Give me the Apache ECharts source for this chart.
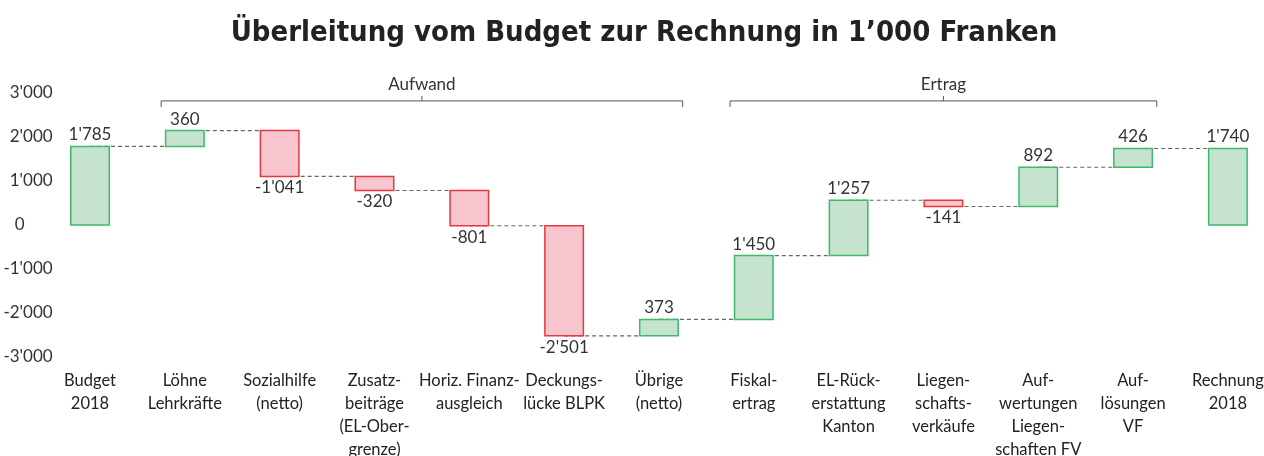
<!DOCTYPE html>
<html>
<head>
<meta charset="utf-8">
<script src="https://cdn.jsdelivr.net/npm/echarts@6/dist/echarts.min.js"></script>
<style>
  html, body { margin: 0; padding: 0; background: #fff; }
  #chart { width: 1264px; height: 456px; }
</style>
</head>
<body>
<div id="chart"></div>
<script>
// Kategorien und Werte (in 1'000 Franken)
const categories = [
  'Budget\n2018', 'Löhne\nLehrkräfte', 'Sozialhilfe\n(netto)',
  'Zusatz-\nbeiträge\n(EL-Ober-\ngrenze)', 'Horiz. Finanz-\nausgleich',
  'Deckungs-\nlücke BLPK', 'Übrige\n(netto)', 'Fiskal-\nertrag',
  'EL-Rück-\nerstattung\nKanton', 'Liegen-\nschafts-\nverkäufe',
  'Auf-\nwertungen\nLiegen-\nschaften FV', 'Auf-\nlösungen\nVF', 'Rechnung\n2018'
];
const changes = [1785, 360, -1041, -320, -801, -2501, 373, 1450, 1257, -141, 892, 426, 1740];
const isTotal = [true, false, false, false, false, false, false, false, false, false, false, false, true];
const groupNames = ['Aufwand', 'Ertrag'];
const groupFirst = [1, 7];
const groupLast = [6, 11];

const FONT = 'Lato, "DejaVu Sans Condensed", sans-serif';
const TITLE_FONT = '"DejaVu Sans Condensed", Roboto, sans-serif';
const GREEN_FILL = '#c6e3d0', GREEN_LINE = '#3dba6c';
const RED_FILL = '#f7c5cd', RED_LINE = '#e8383f';

function fmt(v) {
  const s = String(Math.abs(v)).replace(/\B(?=(\d{3})+(?!\d))/g, "'");
  return (v < 0 ? '-' : '') + s;
}

// Wasserfall: untere/obere Kante jedes Balkens
let run = 0;
const barData = [];
const lineData = [];
changes.forEach((v, i) => {
  let lo, hi, end;
  if (isTotal[i]) {
    lo = Math.min(0, v); hi = Math.max(0, v); end = v;
  } else {
    end = run + v;
    lo = Math.min(run, end); hi = Math.max(run, end);
  }
  run = end;
  barData.push([i, lo, hi, v]);
  if (i < changes.length - 1) lineData.push([i, end]);
});

const chart = echarts.init(document.getElementById('chart'));

function barWidth(api) {
  return api.size([1, 0])[0] * 0.406;
}

const option = {
  animation: false,
  textStyle: { fontFamily: FONT },
  title: {
    text: 'Überleitung vom Budget zur Rechnung in 1’000 Franken',
    left: 639, top: 14, textAlign: 'center',
    textStyle: { fontFamily: TITLE_FONT, fontSize: 29, fontWeight: 'bold', color: '#222' }
  },
  grid: { left: 42.6, top: 93, width: 1232.7, height: 264, containLabel: false, outerBoundsMode: 'none' },
  xAxis: {
    type: 'category',
    data: categories,
    position: 'bottom',
    axisLine: { show: false, onZero: false },
    axisTick: { show: false },
    splitLine: { show: false },
    axisLabel: { interval: 0, fontSize: 16.5, lineHeight: 23, color: '#222', margin: 12, fontFamily: FONT }
  },
  yAxis: {
    type: 'value',
    min: -3000, max: 3000, interval: 1000,
    axisLine: { show: false },
    axisTick: { show: false },
    splitLine: { show: false },
    axisLabel: {
      fontSize: 17, color: '#333', margin: -10, fontFamily: FONT,
      formatter: v => v === 0 ? '{z|0}' : fmt(v),
      rich: { z: { fontSize: 17, color: '#333', padding: [0, 28, 0, 0], fontFamily: FONT } }
    }
  },
  series: [
    {
      // gestrichelte Verbindungslinien
      type: 'custom',
      z: 1,
      data: lineData,
      renderItem: (params, api) => {
        const p = api.coord([api.value(0), api.value(1)]);
        const step = api.size([1, 0])[0];
        const x2 = p[0] + step - barWidth(api) / 2;
        return {
          type: 'line',
          shape: { x1: p[0], y1: p[1], x2: x2, y2: p[1] },
          style: { stroke: '#666', lineWidth: 1.2, lineDash: [4, 3] }
        };
      }
    },
    {
      type: 'custom',
      z: 2,
      data: barData,
      renderItem: (params, api) => {
        const i = api.value(0);
        const top = api.coord([i, api.value(2)]);
        const bot = api.coord([i, api.value(1)]);
        const v = api.value(3);
        const bw = barWidth(api);
        const pos = v >= 0;
        return {
          type: 'group',
          children: [
            {
              type: 'rect',
              shape: { x: top[0] - bw / 2, y: top[1], width: bw, height: bot[1] - top[1] },
              style: { fill: pos ? GREEN_FILL : RED_FILL, stroke: pos ? GREEN_LINE : RED_LINE, lineWidth: 1.5 }
            },
            {
              type: 'text',
              x: top[0],
              y: pos ? top[1] - 3 : bot[1] + 3,
              style: {
                text: fmt(v), fontSize: 17, fill: '#333', fontFamily: FONT,
                align: 'center', verticalAlign: pos ? 'bottom' : 'top'
              }
            }
          ]
        };
      }
    }
  ]
};
chart.setOption(option);

// Klammern "Aufwand" / "Ertrag" über den Gruppen
function addBrackets() {
  const c0 = chart.convertToPixel({ xAxisIndex: 0 }, 0);
  const c1 = chart.convertToPixel({ xAxisIndex: 0 }, 1);
  const step = c1 - c0;
  const y = chart.convertToPixel({ yAxisIndex: 0 }, 2820);
  const graphics = [];
  groupNames.forEach((name, g) => {
    const xa = c0 + step * (groupFirst[g] - 0.25);
    const xb = c0 + step * (groupLast[g] + 0.25);
    const xm = (xa + xb) / 2;
    graphics.push({
      type: 'polyline',
      shape: { points: [[xa, y + 6], [xa, y], [xb, y], [xb, y + 6]] },
      style: { stroke: '#555', lineWidth: 1, fill: null }
    });
    graphics.push({
      type: 'line',
      shape: { x1: xm, y1: y, x2: xm, y2: y - 5 },
      style: { stroke: '#555', lineWidth: 1 }
    });
    graphics.push({
      type: 'text',
      x: xm, y: y - 8,
      style: { text: name, fontSize: 17, fill: '#333', fontFamily: FONT, align: 'center', verticalAlign: 'bottom' }
    });
  });
  chart.setOption({ graphic: graphics });
}
addBrackets();
</script>
</body>
</html>
